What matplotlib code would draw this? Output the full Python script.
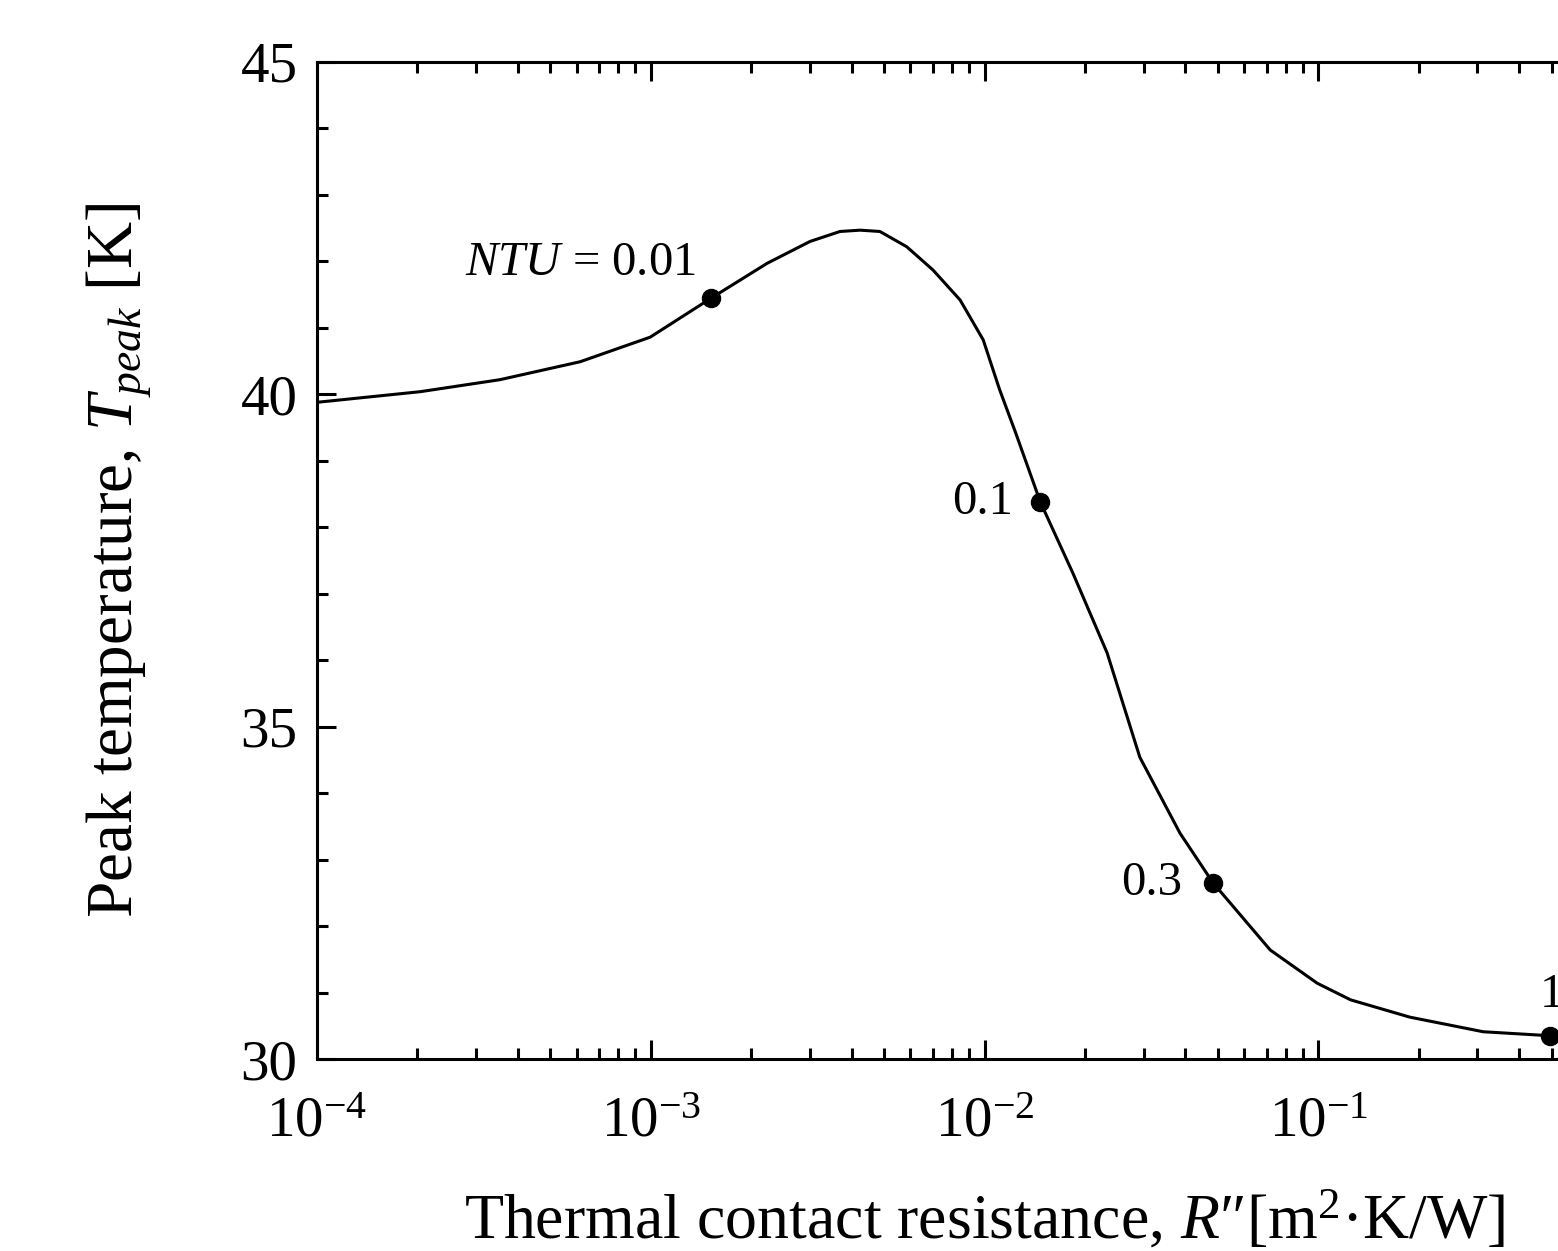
import matplotlib
matplotlib.use("Agg")
import matplotlib.pyplot as plt
from matplotlib.ticker import FixedLocator, LogLocator, MultipleLocator, NullFormatter

plt.rcParams['font.family'] = ['Liberation Serif', 'DejaVu Serif']
plt.rcParams['mathtext.fontset'] = 'custom'
plt.rcParams['mathtext.rm'] = 'Liberation Serif'
plt.rcParams['mathtext.it'] = 'Liberation Serif:italic'

# curve
resistance = [1.0e-4, 2.04e-4, 3.53e-4, 6.14e-4, 9.96e-4, 1.52e-3, 2.23e-3, 3.00e-3,
              3.69e-3, 4.24e-3, 4.86e-3, 5.85e-3, 7.01e-3, 8.45e-3, 9.91e-3, 1.11e-2,
              1.24e-2, 1.47e-2, 1.84e-2, 2.33e-2, 2.92e-2, 3.85e-2, 4.84e-2, 7.18e-2,
              9.93e-2, 0.125, 0.188, 0.312, 0.495]
t_peak = [39.88, 40.04, 40.22, 40.49, 40.86, 41.45, 41.97, 42.30,
          42.45, 42.47, 42.45, 42.22, 41.87, 41.42, 40.82, 40.07,
          39.42, 38.38, 37.31, 36.11, 34.54, 33.40, 32.65, 31.64,
          31.14, 30.89, 30.63, 30.41, 30.35]

# NTU marker points
ntu_r = [1.52e-3, 1.47e-2, 4.84e-2, 0.495]
ntu_t = [41.45, 38.38, 32.65, 30.35]
ntu_labels = ['$NTU$ = 0.01', '0.1', '0.3', '1']
label_offsets = [(-11, 25), (-20, 0), (-22, 0), (1, 29)]
label_ha = ['right', 'right', 'right', 'center']

x_major = [1e-4, 1e-3, 1e-2, 1e-1]

fig = plt.figure(figsize=(15.58, 12.51), dpi=100)
# axis runs to 10^0, the right part is cut by the figure edge like in the original
ax = fig.add_axes([317 / 1558, 1 - 1059 / 1251, (1652 - 317) / 1558, (1059 - 62) / 1251])

ax.plot(resistance, t_peak, color='black', lw=2.2)
ax.plot(ntu_r, ntu_t, 'o', color='black', ms=13, clip_on=False)

for x, y, s, off, ha in zip(ntu_r, ntu_t, ntu_labels, label_offsets, label_ha):
    ax.annotate(s, (x, y), xytext=off, textcoords='offset points',
                ha=ha, va='center', fontsize=35, annotation_clip=False)

ax.set_xscale('log')
ax.set_xlim(1e-4, 1e0)
ax.set_ylim(30, 45)
ax.xaxis.set_major_locator(FixedLocator(x_major))
ax.xaxis.set_minor_locator(LogLocator(base=10, subs=range(2, 10), numticks=20))
ax.xaxis.set_minor_formatter(NullFormatter())
ax.yaxis.set_major_locator(MultipleLocator(5))
ax.yaxis.set_minor_locator(MultipleLocator(1))

ax.tick_params(which='both', direction='in', top=True, right=True, width=2.2)
ax.tick_params(which='major', length=14, labelsize=41)
ax.tick_params(which='minor', length=8)
ax.tick_params(axis='x', which='major', pad=27)
ax.tick_params(axis='y', which='major', pad=14)
for sp in ax.spines.values():
    sp.set_linewidth(2.2)

ax.set_xlabel("Thermal contact resistance, $R$\u2033[m$^2$\u00b7K/W]", fontsize=46, labelpad=30)
ax.set_ylabel("Peak temperature, $T_{peak}$ [K]", fontsize=47, labelpad=62)

fig.savefig('out.png', dpi=100)
